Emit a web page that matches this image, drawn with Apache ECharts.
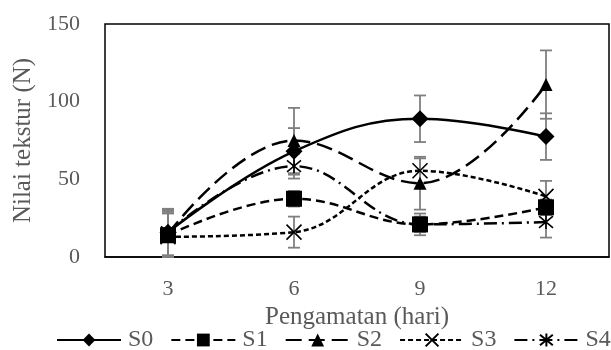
<!DOCTYPE html>
<html><head><meta charset="utf-8">
<script src="https://cdn.jsdelivr.net/npm/echarts@6/dist/echarts.min.js"></script>
<style>html,body{margin:0;padding:0;background:#fff}#c{width:611px;height:350px}</style>
</head><body><div id="c"></div>
<script>
const categories = ['3', '6', '9', '12'];
const s0 = [16, 68, 89, 77.5];
const s1 = [14, 37.5, 21, 32];
const s2 = [15, 75, 47.5, 111];
const s3 = [13, 16, 55.5, 39];
const s4 = [16, 58.5, 21, 22.5];
const e0 = [15, 15, 15, 15];
const e1 = [15, 5, 5, 5];
const e2 = [15, 21, 17, 22];
const e3 = [15, 10, 8, 10];
const e4 = [15, 8, 7, 10];
const names = ['S0', 'S1', 'S2', 'S3', 'S4'];

const FONT = '"Liberation Serif", "Times New Roman", serif';
const X_PATH = 'path://M0,0L10,10M10,0L0,10';
const AST_PATH = 'path://M0,0L10,10M10,0L0,10M5,-1L5,11';

const vals = [s0, s1, s2, s3, s4];
const errs = [e0, e1, e2, e3, e4];
const styles = [
  {symbol: 'diamond', size: 17, type: 'solid', item: {color: '#000'}},
  {symbol: 'rect', size: 16, type: [9, 5], item: {color: '#000'}},
  {symbol: 'triangle', size: 13, type: [16, 7], item: {color: '#000'}},
  {symbol: X_PATH, size: 15, type: [5, 3], item: {color: '#fff', borderColor: '#000', borderWidth: 1.6}},
  {symbol: AST_PATH, size: 14, type: [13, 5, 2, 5], item: {color: '#fff', borderColor: '#000', borderWidth: 1.6}}
];

const series = [];
vals.forEach((v, i) => {
  series.push({
    type: 'custom',
    name: names[i] + '_err',
    z: 1,
    silent: true,
    data: v.map((y, k) => [k, y, errs[i][k]]),
    renderItem: function (params, api) {
      const x = api.value(0), y = api.value(1), e = api.value(2);
      const top = api.coord([x, y + e]);
      const bot = api.coord([x, Math.max(0, y - e)]);
      const w = 6;
      const st = {stroke: '#7f7f7f', lineWidth: 1.8};
      return {type: 'group', children: [
        {type: 'line', shape: {x1: top[0], y1: top[1], x2: bot[0], y2: bot[1]}, style: st},
        {type: 'line', shape: {x1: top[0] - w, y1: top[1], x2: top[0] + w, y2: top[1]}, style: st},
        {type: 'line', shape: {x1: bot[0] - w, y1: bot[1], x2: bot[0] + w, y2: bot[1]}, style: st}
      ]};
    }
  });
});
vals.forEach((v, i) => {
  const s = styles[i];
  series.push({
    type: 'line',
    name: names[i],
    data: v,
    z: 3,
    smooth: 0.4,
    color: '#000',
    symbol: s.symbol,
    symbolSize: s.size,
    showAllSymbol: true,
    lineStyle: {color: '#000', width: 2.5, type: s.type},
    itemStyle: s.item
  });
});

const chart = echarts.init(document.getElementById('c'), null, {renderer: 'canvas'});
chart.setOption({
  animation: false,
  backgroundColor: '#fff',
  grid: {left: 105, right: 2, top: 24, bottom: 93, show: true, borderColor: '#000', borderWidth: 1.5},
  xAxis: {
    type: 'category', data: categories, boundaryGap: true,
    axisLine: {show: true, lineStyle: {color: '#000', width: 1.5}},
    axisTick: {show: false},
    axisLabel: {color: '#595959', fontFamily: FONT, fontSize: 22, margin: 21},
    name: 'Pengamatan (hari)', nameLocation: 'middle', nameGap: 43,
    nameTextStyle: {color: '#595959', fontFamily: FONT, fontSize: 25, verticalAlign: 'top'}
  },
  yAxis: {
    type: 'value', min: 0, max: 150, interval: 50,
    axisLine: {show: false}, axisTick: {show: false}, splitLine: {show: false},
    axisLabel: {color: '#595959', fontFamily: FONT, fontSize: 22, margin: 25},
    name: 'Nilai tekstur (N)', nameLocation: 'middle', nameGap: 53,
    nameTextStyle: {color: '#595959', fontFamily: FONT, fontSize: 25}
  },
  legend: {
    data: names, top: 328, left: 56, padding: 0,
    itemWidth: 64, itemHeight: 16, itemGap: 17,
    textStyle: {color: '#595959', fontFamily: FONT, fontSize: 24, padding: [0, 0, 0, 2]}
  },
  series: series
});
</script></body></html>
